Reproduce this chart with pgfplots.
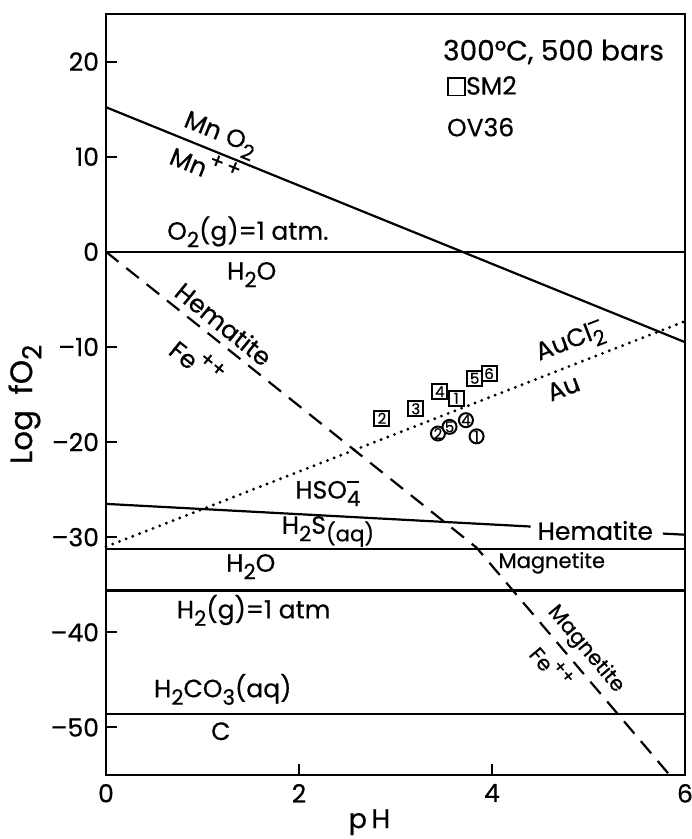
\documentclass[border=0pt]{standalone}
\usepackage{fontspec}
\setmainfont{Poppins}[FakeBold=0.5]
\usepackage{graphicx}
\usepackage{pgfplots}
\pgfplotsset{compat=1.18}
\newcommand\sub[1]{\raisebox{-0.55ex}{\scalebox{0.85}{#1}}}
\newcommand\sups[1]{\raisebox{0.95ex}{\scalebox{0.85}{#1}}}
\tikzset{lbl/.style={font=\fontsize{12.5}{14}\selectfont},
         slbl/.style={font=\fontsize{10.5}{12}\selectfont}}
\pgfplotstableread{
x y n
2.86 -17.5 2
3.21 -16.5 3
3.46 -14.7 4
3.63 -15.4 1
3.82 -13.3 5
3.97 -12.8 6
}\sqdata
\pgfplotstableread{
x y n
3.44 -19.1 2
3.56 -18.4 5
3.73 -17.7 4
3.84 -19.4 1
}\cidata
\begin{document}
\begin{tikzpicture}
\begin{axis}[
  scale only axis, width=289.5pt, height=380.5pt,
  xmin=0, xmax=6, ymin=-55, ymax=25,
  xtick={0,2,4,6}, xticklabels={0,2,4,6},
  ytick={-50,-40,-30,-20,-10,0,10,20},
  yticklabels={–50,–40,–30,–20,–10,0,10,20},
  tick align=inside, xtick pos=bottom, ytick pos=left,
  major tick length=5.5pt,
  tick style={line width=1pt, black},
  axis line style={line width=1.2pt},
  tick label style={font=\fontsize{12.5}{13}\selectfont},
  xticklabel style={yshift=-1pt},
  xlabel={p\,H}, ylabel={Log\hspace{0.5em}fO\sub{2}},
  xlabel style={font=\fontsize{13.5}{14}\selectfont, at={(axis description cs:0.455,-0.062)}, anchor=center},
  ylabel style={font=\fontsize{15.5}{16}\selectfont, at={(axis description cs:-0.14,0.487)}, anchor=center},
  clip=false,
]
\coordinate (ll) at (rel axis cs:0,0);
\coordinate (ur) at (rel axis cs:1,1);
% MnO2 / Mn++
\addplot[black, line width=1.1pt] coordinates {(0,15.2) (6,-9.5)};
% O2 / H2O
\addplot[black, line width=1.1pt] coordinates {(0,0) (6,0)};
% Hematite-Fe++ / Magnetite-Fe++
\addplot[black, line width=1.1pt, dash pattern=on 8pt off 5pt] coordinates {(0,0) (3.84,-31.1) (5.84,-55)};
% Au / AuCl2-
\addplot[black, line width=1.6pt, line cap=round, dash pattern=on 0pt off 3.6pt] coordinates {(0,-31.0) (6,-7.3)};
% HSO4- / H2S
\addplot[black, line width=1.1pt] coordinates {(0,-26.5) (4.40,-28.88)};
\addplot[black, line width=1.1pt] coordinates {(5.77,-29.62) (6,-29.74)};
% Hematite / Magnetite
\addplot[black, line width=1.1pt] coordinates {(0,-31.2) (6,-31.2)};
% H2O / H2
\addplot[black, line width=1.1pt] coordinates {(0,-35.6) (6,-35.6)};
% H2CO3 / C
\addplot[black, line width=1.1pt] coordinates {(0,-48.6) (6,-48.6)};
% samples
\addplot[only marks, mark=square*, mark size=3.75pt,
  mark options={draw=black, fill=white, line width=1pt},
  nodes near coords, point meta=explicit symbolic,
  nodes near coords style={anchor=center, inner sep=0pt, font=\fontsize{7.5}{8}\selectfont}]
  table[x=x, y=y, meta=n] {\sqdata};
\addplot[only marks, mark=*, mark size=3.5pt,
  mark options={draw=black, fill=white, line width=1pt},
  nodes near coords, point meta=explicit symbolic,
  nodes near coords style={anchor=center, inner sep=0pt, font=\fontsize{7.5}{8}\selectfont}]
  table[x=x, y=y, meta=n] {\cidata};
% labels
\node[font=\fontsize{14}{16}\selectfont, anchor=west] at (axis cs:3.42,21.0) {300°C, 500 bars};
\node[font=\fontsize{12.5}{14}\selectfont, anchor=west, inner sep=0pt] at (axis cs:3.53,17.4) {{\setlength\fboxsep{0pt}\setlength\fboxrule{0.9pt}\fbox{\rule{0pt}{0.62em}\rule{0.62em}{0pt}}}SM2};
\node[font=\fontsize{12.5}{14}\selectfont, anchor=west, inner sep=0pt] at (axis cs:3.53,13.1) {OV36};
\node[lbl, rotate=-22] at (axis cs:1.18,12.2) {Mn O\sub{2}};
\node[lbl, rotate=-22] at (axis cs:1.03,9.2) {Mn\sups{+\,+}};
\node[lbl] at (axis cs:1.47,2.1) {O\sub{2}(g)=1 atm.};
\node[lbl] at (axis cs:1.51,-2.4) {H\sub{2}O};
\node[lbl, rotate=-39] at (axis cs:1.22,-7.6) {Hematite};
\node[lbl, rotate=-39] at (axis cs:0.95,-11.5) {Fe\sups{++}};
\node[lbl, rotate=21] at (axis cs:4.81,-9.6) {AuCl\rlap{\sub{2}}\sups{\rule[0.25ex]{0.55em}{0.09em}}};
\node[lbl, rotate=21] at (axis cs:4.74,-14.3) {Au};
\node[lbl] at (axis cs:2.29,-25.4) {HSO\rlap{\sub{4}}\sups{\rule[0.25ex]{0.55em}{0.09em}}};
\node[lbl] at (axis cs:2.30,-29.4) {H\sub{2}S\sub{(aq)}};
\node[font=\fontsize{12.5}{14}\selectfont] at (axis cs:5.07,-29.3) {Hematite};
\node[slbl] at (axis cs:4.62,-32.7) {Magnetite};
\node[lbl] at (axis cs:1.50,-33.1) {H\sub{2}O};
\node[lbl] at (axis cs:1.53,-37.7) {H\sub{2}(g)=1 atm};
\node[slbl, rotate=-50] at (axis cs:4.97,-41.8) {Magnetite};
\node[slbl, rotate=-50] at (axis cs:4.62,-43.6) {Fe\sups{++}};
\node[lbl] at (axis cs:1.21,-46.0) {H\sub{2}CO\sub{3}(aq)};
\node[lbl] at (axis cs:1.19,-50.4) {C};
\end{axis}
\pgfresetboundingbox
\path (ll) ++(-53pt,-32pt) rectangle ([shift={(3pt,7pt)}]ur);
\end{tikzpicture}
\end{document}
